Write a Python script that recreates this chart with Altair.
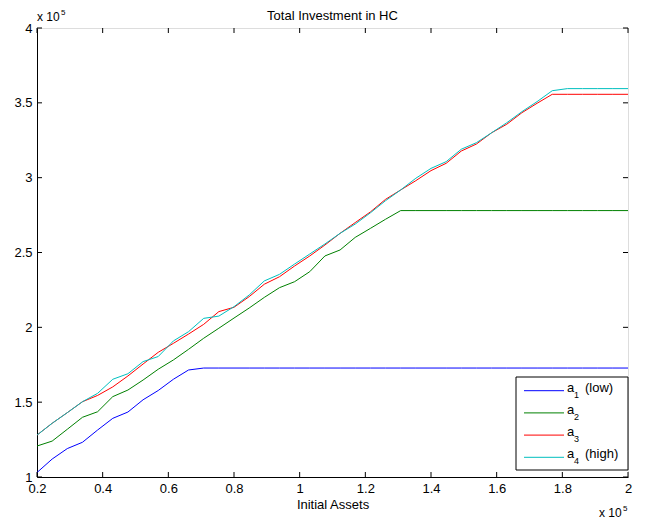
import altair as alt
import pandas as pd

# ---- data (values in units of 1e5) ----
x_vals = [0.2, 0.2462, 0.2923, 0.3385, 0.3846, 0.4308, 0.4769, 0.5231, 0.5692, 0.6154,
          0.6615, 0.7077, 0.7538, 0.8, 0.8462, 0.8923, 0.9385, 0.9846, 1.0308, 1.0769,
          1.1231, 1.1692, 1.2154, 1.2615, 1.3077, 1.3538, 1.4, 1.4462, 1.4923, 1.5385,
          1.5846, 1.6308, 1.6769, 1.7231, 1.7692, 1.8154, 1.8615, 1.9077, 1.9538, 2.0]

a1_low = [1.03, 1.12, 1.19, 1.232, 1.314, 1.392, 1.434, 1.516, 1.578, 1.653,
          1.715, 1.728, 1.728, 1.728, 1.728, 1.728, 1.728, 1.728, 1.728, 1.728,
          1.728, 1.728, 1.728, 1.728, 1.728, 1.728, 1.728, 1.728, 1.728, 1.728,
          1.728, 1.728, 1.728, 1.728, 1.728, 1.728, 1.728, 1.728, 1.728, 1.728]

a2 = [1.207, 1.24, 1.319, 1.399, 1.436, 1.537, 1.581, 1.648, 1.72, 1.782,
      1.853, 1.927, 1.994, 2.062, 2.129, 2.2, 2.265, 2.305, 2.372, 2.477,
      2.517, 2.601, 2.661, 2.722, 2.78, 2.78, 2.78, 2.78, 2.78, 2.78,
      2.78, 2.78, 2.78, 2.78, 2.78, 2.78, 2.78, 2.78, 2.78, 2.78]

a3 = [1.28, 1.359, 1.43, 1.503, 1.545, 1.602, 1.675, 1.755, 1.833, 1.893,
      1.955, 2.02, 2.105, 2.134, 2.205, 2.288, 2.338, 2.41, 2.477, 2.55,
      2.628, 2.70, 2.771, 2.855, 2.918, 2.98, 3.047, 3.096, 3.178, 3.225,
      3.30, 3.357, 3.434, 3.497, 3.557, 3.557, 3.557, 3.557, 3.557, 3.557]

a4_high = [1.28, 1.359, 1.43, 1.503, 1.559, 1.653, 1.69, 1.771, 1.805, 1.909,
           1.971, 2.06, 2.075, 2.138, 2.216, 2.31, 2.354, 2.423, 2.49, 2.557,
           2.628, 2.69, 2.765, 2.846, 2.918, 2.996, 3.062, 3.107, 3.19, 3.234,
           3.30, 3.367, 3.441, 3.508, 3.581, 3.595, 3.595, 3.595, 3.595, 3.595]

series_names = ["a1", "a2", "a3", "a4"]
series_colors = ["#0000FF", "#008000", "#FF0000", "#00BFBF"]
legend_main = ["a", "a", "a", "a"]
legend_sub = ["1", "2", "3", "4"]
legend_tail = ["(low)", "", "", "(high)"]

x_ticks = [0.2, 0.4, 0.6, 0.8, 1.0, 1.2, 1.4, 1.6, 1.8, 2.0]
y_ticks = [1.0, 1.5, 2.0, 2.5, 3.0, 3.5, 4.0]

title_text = "Total Investment in HC"
x_title = "Initial Assets"

FONT = "Liberation Sans"
W, H = 591, 449

rows = []
for name, vals in zip(series_names, [a1_low, a2, a3, a4_high]):
    for xv, yv in zip(x_vals, vals):
        rows.append({"x": xv, "y": yv, "series": name})
df = pd.DataFrame(rows)

xscale = alt.Scale(domain=[0.2, 2.0], nice=False, zero=False)
yscale = alt.Scale(domain=[1.0, 4.0], nice=False, zero=False)

xaxis = alt.Axis(values=x_ticks, format=".1~f", ticks=False, grid=False,
                 labelPadding=5, labelFontSize=13, labelFont=FONT, labelColor="black",
                 labelFlush=False, labelOverlap=False,
                 domainColor="black", domainWidth=1,
                 title=x_title, titleFont=FONT, titleFontSize=13,
                 titleFontWeight="normal", titleColor="black", titlePadding=3)
yaxis = alt.Axis(values=y_ticks, format=".1~f", ticks=False, grid=False,
                 labelPadding=5, labelFontSize=13, labelFont=FONT, labelColor="black",
                 labelFlush=False, labelOverlap=False,
                 domainColor="black", domainWidth=1, title=None)

lines = alt.Chart(df).mark_line(strokeWidth=1).encode(
    x=alt.X("x:Q", scale=xscale, axis=xaxis),
    y=alt.Y("y:Q", scale=yscale, axis=yaxis),
    color=alt.Color("series:N", scale=alt.Scale(domain=series_names, range=series_colors),
                    legend=None),
    order=alt.Order("x:Q"),
)

xt = pd.DataFrame({"x": x_ticks})
yt = pd.DataFrame({"y": y_ticks})
tick_len = 5
bottom_ticks = alt.Chart(xt).mark_rule(color="black", strokeWidth=1).encode(
    x=alt.X("x:Q", scale=xscale, axis=xaxis), y=alt.value(H), y2=alt.value(H - tick_len))
top_ticks = alt.Chart(xt).mark_rule(color="black", strokeWidth=1).encode(
    x=alt.X("x:Q", scale=xscale, axis=xaxis), y=alt.value(0), y2=alt.value(tick_len))
left_ticks = alt.Chart(yt).mark_rule(color="black", strokeWidth=1).encode(
    y=alt.Y("y:Q", scale=yscale, axis=yaxis), x=alt.value(0), x2=alt.value(tick_len))
right_ticks = alt.Chart(yt).mark_rule(color="black", strokeWidth=1).encode(
    y=alt.Y("y:Q", scale=yscale, axis=yaxis), x=alt.value(W), x2=alt.value(W - tick_len))

layers = [lines, bottom_ticks, top_ticks, left_ticks, right_ticks]

one = pd.DataFrame({"k": [0]})

# ---- title ----
layers.append(alt.Chart(one).mark_text(align="center", baseline="alphabetic", fontSize=13,
                                       font=FONT, color="black", text=title_text).encode(
    x=alt.value(W / 2), y=alt.value(-8)))

# ---- legend (MATLAB style box, lower right) ----
box = alt.Chart(one).mark_rect(fill="white", stroke="black", strokeWidth=1).encode(
    x=alt.value(479), x2=alt.value(W), y=alt.value(349), y2=alt.value(442))
layers.append(box)
for i, (c, m, s, t) in enumerate(zip(series_colors, legend_main, legend_sub, legend_tail)):
    yl = 362.7 + 22.2 * i
    layers.append(alt.Chart(one).mark_rule(color=c, strokeWidth=1).encode(
        x=alt.value(487), x2=alt.value(527), y=alt.value(yl)))
    layers.append(alt.Chart(one).mark_text(align="left", baseline="alphabetic", fontSize=13,
                                           font=FONT, color="black", text=m).encode(
        x=alt.value(530), y=alt.value(yl + 1)))
    layers.append(alt.Chart(one).mark_text(align="left", baseline="alphabetic", fontSize=9,
                                           font=FONT, color="black", text=s).encode(
        x=alt.value(537), y=alt.value(yl + 7)))
    if t:
        layers.append(alt.Chart(one).mark_text(align="left", baseline="alphabetic", fontSize=13,
                                               font=FONT, color="black", text=t).encode(
            x=alt.value(548), y=alt.value(yl + 1)))

# ---- "x 10^5" exponent annotations ----
for (bx, by) in [(0, -7), (562, 489)]:
    layers.append(alt.Chart(one).mark_text(align="left", baseline="alphabetic", fontSize=12,
                                           font=FONT, color="black", text="x 10").encode(
        x=alt.value(bx), y=alt.value(by)))
    layers.append(alt.Chart(one).mark_text(align="left", baseline="alphabetic", fontSize=8,
                                           font=FONT, color="black", text="5").encode(
        x=alt.value(bx + 24), y=alt.value(by - 6)))

chart = alt.layer(*layers).properties(
    width=W, height=H,
    padding={"left": 37, "top": 28, "right": 19, "bottom": 47},
    autosize=alt.AutoSizeParams(type="none"),
).configure_view(stroke="black", strokeWidth=1).configure(background="white")

chart.save("out.html", embed_options={"renderer": "svg", "actions": False})
